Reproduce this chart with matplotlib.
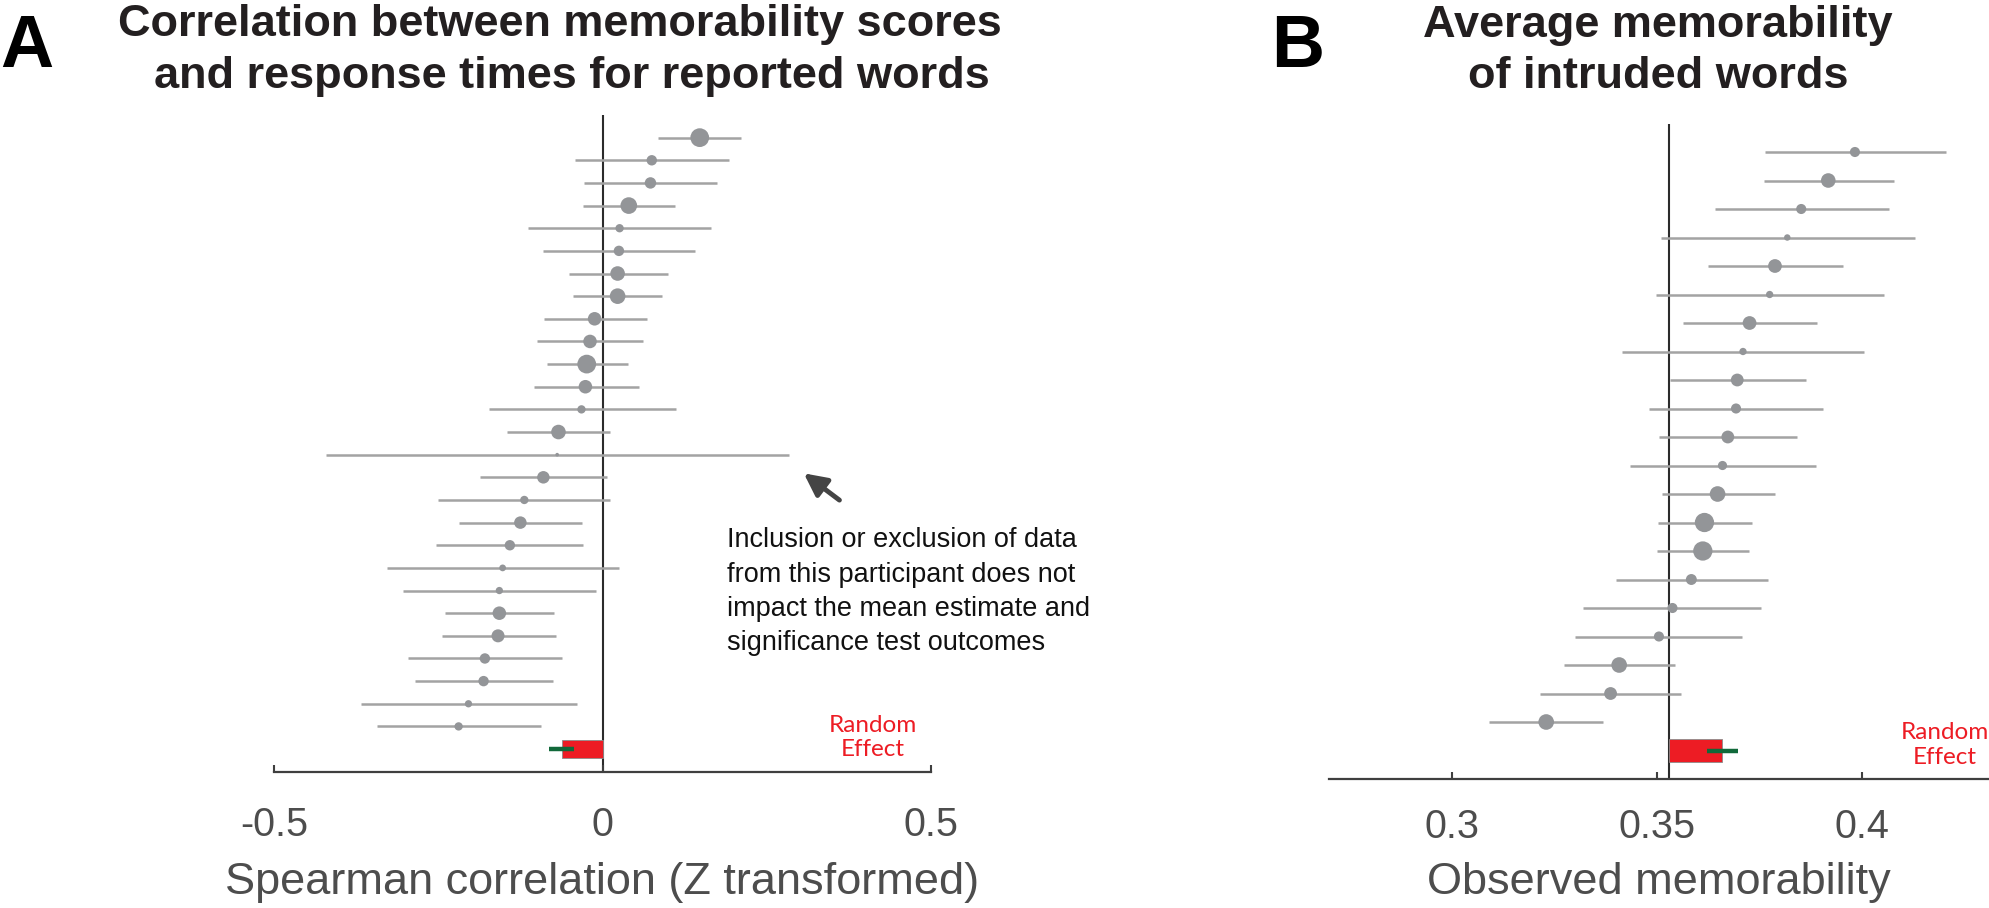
import numpy as np
import matplotlib
matplotlib.use('Agg')
import matplotlib.pyplot as plt

plt.rcParams['font.family'] = ['Liberation Sans', 'DejaVu Sans']

# Panel A: correlation per participant (Z transformed), 95% CI and weight (marker diameter, px)
a_val = [0.148, 0.075, 0.073, 0.040, 0.026, 0.025, 0.023, 0.023, -0.012, -0.019,
         -0.024, -0.026, -0.032, -0.067, -0.069, -0.090, -0.119, -0.125, -0.141, -0.152,
         -0.157, -0.157, -0.159, -0.179, -0.181, -0.204, -0.219]
a_lo = [0.084, -0.042, -0.028, -0.030, -0.114, -0.091, -0.051, -0.045, -0.089, -0.100,
        -0.085, -0.105, -0.173, -0.146, -0.421, -0.187, -0.251, -0.219, -0.253, -0.328,
        -0.304, -0.239, -0.244, -0.296, -0.285, -0.367, -0.343]
a_hi = [0.211, 0.193, 0.174, 0.110, 0.165, 0.141, 0.099, 0.091, 0.067, 0.061,
        0.039, 0.055, 0.112, 0.012, 0.284, 0.007, 0.012, -0.031, -0.029, 0.025,
        -0.010, -0.074, -0.071, -0.061, -0.076, -0.039, -0.094]
a_w = [18, 10, 11, 16, 8, 10, 14, 15, 13, 13, 18, 13, 8, 14, 3.5, 12, 8, 12, 10, 6.5,
       7, 13, 12.5, 10, 10, 7, 8]
a_mean, a_ci = -0.062, (-0.081, -0.044)

# Panel B: average memorability of intruded words per participant
b_val = [0.3983, 0.3918, 0.3852, 0.3818, 0.3788, 0.3775, 0.3726, 0.3710, 0.3696, 0.3693,
         0.3673, 0.3660, 0.3648, 0.3616, 0.3612, 0.3584, 0.3538, 0.3505, 0.3408, 0.3387, 0.3230]
b_lo = [0.3764, 0.3761, 0.3641, 0.3509, 0.3625, 0.3498, 0.3563, 0.3416, 0.3532, 0.3481,
        0.3505, 0.3434, 0.3512, 0.3502, 0.3500, 0.3400, 0.3320, 0.3301, 0.3273, 0.3215, 0.3091]
b_hi = [0.4204, 0.4078, 0.4065, 0.4129, 0.3953, 0.4053, 0.3891, 0.4006, 0.3863, 0.3905,
        0.3842, 0.3888, 0.3787, 0.3732, 0.3724, 0.3770, 0.3755, 0.3708, 0.3543, 0.3560, 0.3369]
b_w = [9.7, 14, 9.7, 6.2, 13.2, 7, 13.2, 7, 12.3, 9.7, 12.3, 8.8, 15, 18.5, 18.5, 10.5,
       9.7, 9.7, 15, 12.3, 15]
b_mean, b_ci = 0.3659, (0.3621, 0.3697)
b_ref = 0.353

W, H = 1989, 908
fig = plt.figure(figsize=(W / 100, H / 100), dpi=100)

GREY_DOT = '#939598'
GREY_BAR = '#a3a3a3'
RED = '#ed1c24'
GREEN = '#11693a'
AX_COL = '#3f3f3f'
TXT_COL = '#4d4d4d'
TITLE_COL = '#231f20'


def forest(ax, vals, lo, hi, w, mean, ci, ref, pad):
    rows = np.arange(1, len(vals) + 1)
    ax.hlines(rows, lo, hi, color=GREY_BAR, lw=1.8, zorder=2)
    ax.scatter(vals, rows, s=(np.array(w) * 0.75) ** 2, color=GREY_DOT,
               edgecolors='none', zorder=3)
    r = len(vals) + 1
    ax.barh(r, mean - ref, left=ref, height=0.8, color=RED,
            edgecolor='#8c8c8c', lw=0.6, zorder=3)
    ax.hlines(r, ci[0], ci[1], color=GREEN, lw=3.2, zorder=4)
    ax.axvline(ref, color='#2b2b2b', lw=1.5, zorder=1)
    ax.set_ylim(len(vals) + 2, 0)
    for s in ['left', 'top', 'right']:
        ax.spines[s].set_visible(False)
    ax.spines['bottom'].set_color(AX_COL)
    ax.spines['bottom'].set_linewidth(1.6)
    ax.set_yticks([])
    ax.tick_params(axis='x', direction='in', length=5, width=1.5, color=AX_COL,
                   pad=pad, labelsize=28.5, labelcolor=TXT_COL)


# panel A
axA = fig.add_axes([274 / W, (H - 771.7) / H, (931 - 274) / W, (771.7 - 115) / H])
forest(axA, a_val, a_lo, a_hi, a_w, a_mean, a_ci, 0, 25)
axA.set_xlim(-0.5, 0.5)
axA.set_xticks([-0.5, 0, 0.5])
axA.set_xticklabels(['-0.5', '0', '0.5'])
axA.set_xlabel('Spearman correlation (Z transformed)', fontsize=32.5, color=TXT_COL,
               va='baseline')
axA.xaxis.set_label_coords(0.5, -(894 - 771.7) / (771.7 - 115))
axA.text(0.412, 27.5, 'Random\nEffect', color=RED, fontsize=17.5, ha='center', va='center',
         family=['Lato', 'DejaVu Sans'], clip_on=False)
axA.annotate('', xy=(0.303, 15.75), xytext=(0.364, 17.08),
             arrowprops=dict(arrowstyle='-|>', color='#444444', lw=3.5, mutation_scale=34),
             annotation_clip=False)
# baseline of the last line
axA.text(0.1895, 23.63,
         'Inclusion or exclusion of data\nfrom this participant does not\n'
         'impact the mean estimate and\nsignificance test outcomes',
         fontsize=19.5, ha='left', va='baseline', linespacing=1.41, color='#111111',
         clip_on=False)

# panel B
axB = fig.add_axes([1328.9 / W, (H - 779) / H, (W - 1328.9) / W, (779 - 123.5) / H])
forest(axB, b_val, b_lo, b_hi, b_w, b_mean, b_ci, b_ref, 21)
axB.set_xlim(0.27, 0.431)
axB.set_xticks([0.3, 0.35, 0.4])
axB.set_xticklabels(['0.3', '0.35', '0.4'])
axB.set_xlabel('Observed memorability', fontsize=32.5, color=TXT_COL, va='baseline')
axB.xaxis.set_label_coords(0.5 - 0.0, -(894 - 779) / (779 - 123.5))
axB.text(0.4202, 21.8, 'Random\nEffect', color=RED, fontsize=17.5, ha='center', va='center',
         family=['Lato', 'DejaVu Sans'], clip_on=False)

# panel letters and titles
fig.text(0 / W, 1 - 67 / H, 'A', fontsize=53, fontweight='bold', ha='left', va='baseline')
fig.text(1271 / W, 1 - 67 / H, 'B', fontsize=53, fontweight='bold', ha='left', va='baseline')
fig.text(560 / W, 1 - 36 / H, 'Correlation between memorability scores', fontsize=32.5,
         fontweight='bold', ha='center', va='baseline', color=TITLE_COL)
fig.text(572 / W, 1 - 88 / H, 'and response times for reported words', fontsize=32.5,
         fontweight='bold', ha='center', va='baseline', color=TITLE_COL)
fig.text(1658 / W, 1 - 37 / H, 'Average memorability', fontsize=32.5,
         fontweight='bold', ha='center', va='baseline', color=TITLE_COL)
fig.text(1658 / W, 1 - 88 / H, 'of intruded words', fontsize=32.5,
         fontweight='bold', ha='center', va='baseline', color=TITLE_COL)

fig.savefig('out.png', dpi=100)
